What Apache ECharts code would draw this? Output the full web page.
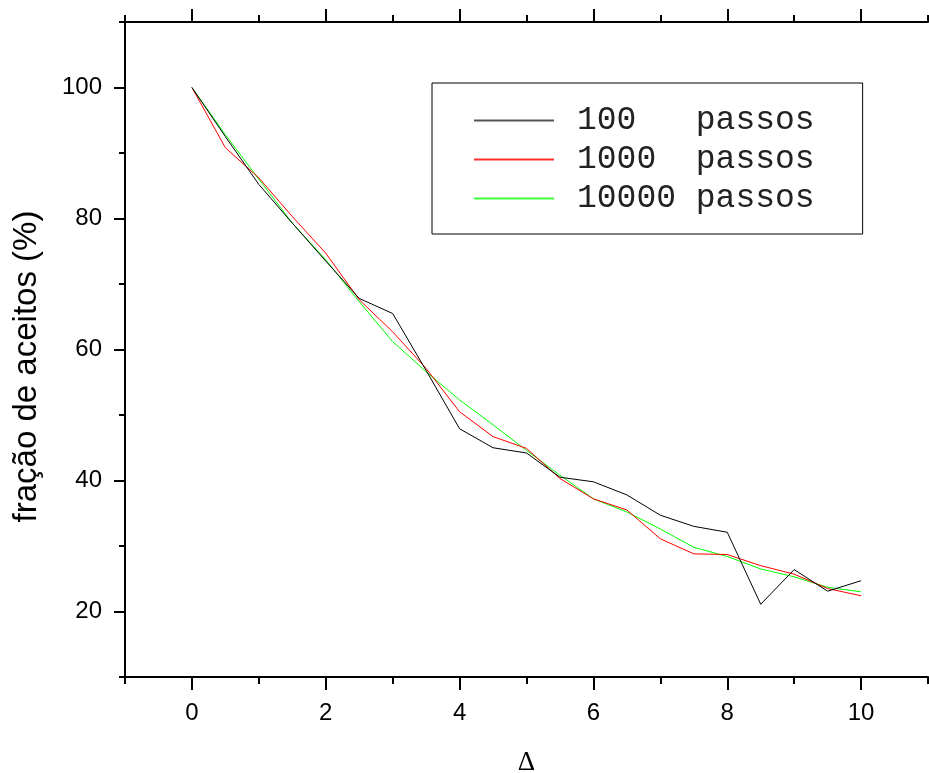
<!DOCTYPE html>
<html>
<head>
<meta charset="utf-8">
<script src="https://cdn.jsdelivr.net/npm/echarts@6/dist/echarts.min.js"></script>
<style>
html,body{margin:0;padding:0;background:#fff;}
#main{width:929px;height:773px;}
</style>
</head>
<body>
<div id="main"></div>
<script>
// ---- data ----
const deltas = [0,0.5,1,1.5,2,2.5,3,3.5,4,4.5,5,5.5,6,6.5,7,7.5,8,8.5,9,9.5,10];
const passos100   = [100,92.5,85.2,79.3,73.5,67.8,65.5,56.8,47.9,45.0,44.2,40.5,39.8,37.8,34.7,33.0,32.1,21.1,26.4,23.1,24.7];
const passos1000  = [100,90.8,86.2,80.3,74.7,67.6,62.7,57.1,50.5,46.7,44.9,40.3,37.2,35.5,31.1,28.8,28.7,27.0,25.7,23.5,22.4];
const passos10000 = [100,92.8,86.0,79.3,73.7,67.3,61.2,56.6,52.3,48.5,44.6,40.8,37.2,35.2,32.6,29.8,28.4,26.5,25.3,23.7,23.0];
const seriesNames = ['100   passos','1000  passos','10000 passos'];
const xMajorTicks = [0,2,4,6,8,10];
const xMinorTicks = [-1,1,3,5,7,9,11];
const yMajorTicks = [20,40,60,80,100];
const yMinorTicks = [10,30,50,70,90,110];
const xTitle = 'Δ';
const yTitle = 'fração de aceitos (%)';

const pairs = v => deltas.map((x,i)=>[x,v[i]]);
const chart = echarts.init(document.getElementById('main'), null, {renderer:'canvas'});
const axLine = {show:true, onZero:false, lineStyle:{color:'#000', width:2}};
const noLine = {show:false, onZero:false};
const sans = 'Liberation Sans, Arial, sans-serif';

function xAx(pos, ticks, len, opts){
  return Object.assign({
    type:'value', position:pos, min:-1, max:11, interval:1,
    axisLine: noLine, splitLine:{show:false},
    axisTick:{show:true, inside:false, length:len, customValues:ticks, lineStyle:{color:'#000', width:2}},
    axisLabel:{show:false}
  }, opts||{});
}
function yAx(ticks, len, opts){
  return Object.assign({
    type:'value', position:'left', min:10, max:110, interval:10,
    axisLine: noLine, splitLine:{show:false},
    axisTick:{show:true, inside:false, length:len, customValues:ticks, lineStyle:{color:'#000', width:2}},
    axisLabel:{show:false}
  }, opts||{});
}

chart.setOption({
  animation:false,
  backgroundColor:'#fff',
  grid:{left:125, right:1, top:22, bottom:96, containLabel:false, outerBoundsMode:'none'},
  legend:{
    orient:'vertical', left:432, top:83,
    data: seriesNames,
    icon:'rect',
    borderColor:'#000', borderWidth:1, backgroundColor:'#fff',
    padding:[21,48,19,42],
    itemWidth:80, itemHeight:2, itemGap:6,
    textStyle:{fontFamily:'Liberation Mono, Courier New, monospace', fontSize:33, color:'#222', padding:[0,0,0,18]}
  },
  xAxis:[
    xAx('bottom', xMajorTicks, 13, {
      axisLine: axLine,
      axisLabel:{show:true, customValues:xMajorTicks, margin:24, fontFamily:sans, fontSize:24, color:'#000'},
      name: xTitle, nameLocation:'middle', nameGap:72,
      nameTextStyle:{fontFamily:'Liberation Serif, Times New Roman, serif', fontSize:27, color:'#000'}
    }),
    xAx('bottom', xMinorTicks, 7),
    xAx('top', xMajorTicks, 13, {axisLine: axLine}),
    xAx('top', xMinorTicks, 7)
  ],
  yAxis:[
    yAx(yMajorTicks, 11, {
      axisLine: axLine,
      axisLabel:{show:true, customValues:yMajorTicks, margin:23, fontFamily:sans, fontSize:24, color:'#000'},
      name: yTitle, nameLocation:'middle', nameGap:82, nameRotate:90,
      nameTextStyle:{fontFamily:sans, fontSize:33, color:'#000', padding:[0,34,0,0]}
    }),
    yAx(yMinorTicks, 6)
  ],
  series:[
    {name:seriesNames[0], type:'line', data:pairs(passos100), symbol:'none', xAxisIndex:0, yAxisIndex:0,
     lineStyle:{color:'#000', width:1}, itemStyle:{color:'#555'}, z:3},
    {name:seriesNames[1], type:'line', data:pairs(passos1000), symbol:'none', xAxisIndex:0, yAxisIndex:0,
     lineStyle:{color:'#ff0000', width:1}, itemStyle:{color:'#ff3030'}, z:2},
    {name:seriesNames[2], type:'line', data:pairs(passos10000), symbol:'none', xAxisIndex:0, yAxisIndex:0,
     lineStyle:{color:'#00ff00', width:1}, itemStyle:{color:'#40ff40'}, z:1}
  ]
});
</script>
</body>
</html>
